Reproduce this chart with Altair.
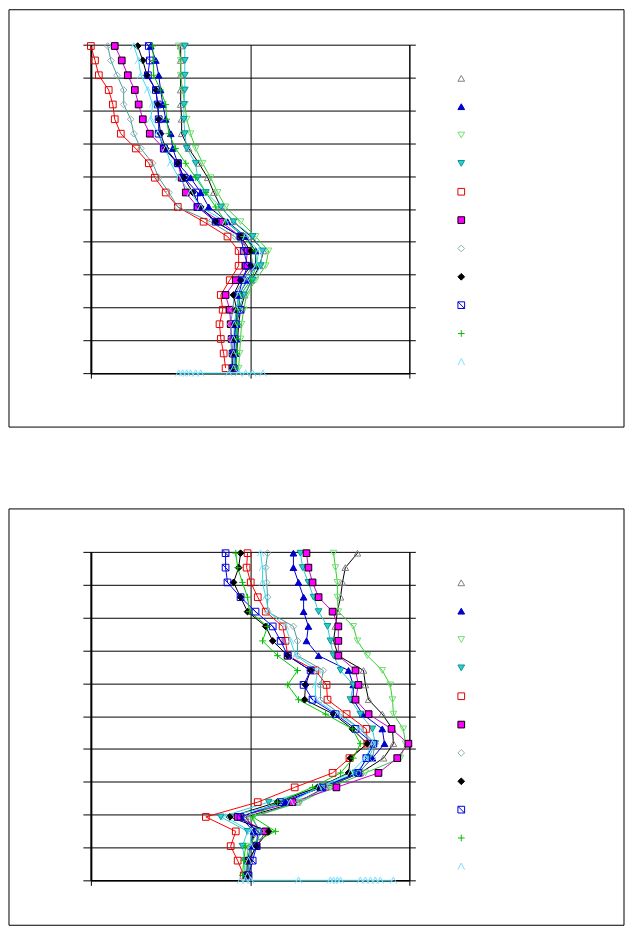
import altair as alt
import pandas as pd

names = [f"Series {i}" for i in range(1, 12)]

# profile levels, top to bottom
levels_desc = [99.6, 95.2, 90.7, 86.2, 81.8, 77.3, 72.9, 68.4, 63.9, 59.5, 55.0, 50.6,
               46.1, 41.6, 37.2, 32.7, 28.3, 23.8, 19.3, 14.9, 10.4, 6.0, 1.5]

# ---- upper chart (values listed from top level to bottom level)
top_s1 = [28.2, 28.2, 28.2, 28.2, 28.2, 28.5, 28.5, 30.7, 33.9, 36.7, 38.6, 40.8, 44.8, 50.2, 54.2, 53.0, 50.5, 48.3, 47.0, 46.4, 46.1, 45.8, 45.5]
top_s2 = [18.8, 20.4, 21.3, 21.9, 22.6, 23.5, 25.1, 25.7, 27.3, 31.3, 34.5, 37.0, 42.9, 48.6, 51.7, 51.7, 49.2, 46.4, 45.8, 45.8, 45.8, 45.5, 45.1]
top_s3 = [27.6, 28.2, 28.2, 28.8, 29.5, 30.1, 31.3, 32.9, 35.1, 37.6, 39.8, 42.3, 47.0, 51.7, 55.8, 54.9, 51.7, 48.9, 48.0, 47.3, 47.0, 46.7, 46.4]
top_s4 = [29.5, 29.5, 29.5, 29.5, 29.2, 29.2, 29.5, 30.1, 32.9, 33.5, 36.1, 40.8, 44.8, 50.8, 53.9, 53.3, 50.8, 48.0, 46.4, 45.8, 45.5, 45.1, 45.1]
top_s5 = [0.0, 1.3, 2.5, 5.6, 6.9, 7.5, 9.4, 14.1, 18.2, 20.1, 23.5, 27.3, 35.4, 42.9, 46.4, 46.4, 43.6, 40.8, 41.4, 40.4, 40.8, 41.7, 42.3]
top_s6 = [7.5, 9.7, 11.6, 13.8, 15.0, 16.3, 18.5, 22.9, 27.3, 28.5, 29.8, 33.5, 40.8, 47.0, 49.2, 48.6, 45.5, 42.3, 43.6, 43.9, 44.2, 44.5, 44.5]
top_s7 = [5.3, 6.3, 8.2, 10.3, 10.3, 12.5, 13.5, 15.7, 19.4, 21.3, 24.5, 27.3, 37.6, 45.1, 50.2, 50.8, 48.0, 45.1, 44.5, 43.9, 43.9, 44.2, 44.2]
top_s8 = [14.7, 16.3, 17.6, 20.4, 21.0, 21.3, 21.9, 23.5, 27.3, 29.2, 32.0, 34.5, 39.2, 47.0, 50.2, 50.2, 47.0, 44.8, 45.8, 45.1, 45.1, 44.8, 44.5]
top_s9 = [18.2, 18.5, 17.9, 20.4, 21.0, 21.3, 21.3, 22.9, 27.3, 29.2, 33.5, 33.5, 39.2, 47.0, 48.0, 49.2, 47.6, 46.4, 47.0, 45.5, 45.1, 44.8, 44.8]
top_s10 = [19.4, 19.7, 19.7, 21.9, 23.5, 23.8, 24.5, 26.6, 29.8, 32.9, 36.1, 39.2, 42.3, 48.0, 51.7, 52.0, 50.2, 47.0, 46.1, 46.1, 45.8, 45.8, 45.5]
top_s11 = [13.5, 15.0, 15.7, 17.9, 19.4, 18.8, 21.0, 23.5, 25.1, 27.6, 31.3, 34.5, 42.3, 48.6, 52.7, 52.0, 48.9, 46.4, 45.8, 45.1, 44.8, 44.8, 44.8]
top_base11 = [27.6, 28.8, 30.1, 31.3, 32.9, 34.5, 43.3, 46.4, 48.6, 50.8, 54.0]

# ---- lower chart
bot_s1 = [83.7, 79.9, 79.0, 78.4, 77.4, 76.8, 76.2, 77.7, 85.6, 86.2, 87.2, 91.5, 94.7, 95.0, 91.9, 84.6, 73.7, 64.9, 48.6, 51.7, 50.2, 49.2, 48.9]
bot_s2 = [63.6, 63.6, 65.2, 66.8, 66.8, 68.3, 67.7, 71.5, 80.9, 82.4, 82.4, 85.3, 91.5, 92.2, 88.4, 84.0, 72.1, 61.1, 47.0, 51.1, 50.2, 49.5, 48.9]
bot_s3 = [76.2, 76.8, 77.4, 77.4, 77.7, 82.4, 83.7, 86.8, 91.5, 94.0, 94.7, 95.0, 98.1, 98.8, 97.2, 86.2, 75.2, 65.8, 50.8, 52.7, 49.5, 48.9, 48.6]
bot_s4 = [65.8, 66.5, 68.3, 69.9, 71.5, 74.3, 75.2, 76.2, 78.4, 82.4, 81.5, 84.6, 88.4, 89.3, 87.2, 83.1, 72.1, 55.8, 40.8, 49.2, 47.6, 48.3, 48.3]
bot_s5 = [49.2, 48.9, 50.2, 52.4, 54.9, 60.2, 61.1, 61.8, 70.5, 74.0, 74.3, 80.3, 86.5, 86.8, 81.2, 75.9, 64.0, 52.4, 36.1, 45.5, 43.9, 46.1, 48.0]
bot_s6 = [67.7, 68.3, 69.6, 71.5, 75.9, 77.7, 77.7, 77.7, 83.1, 84.0, 83.1, 87.2, 94.4, 99.7, 96.2, 90.3, 77.1, 63.3, 46.1, 54.9, 52.0, 49.5, 49.2]
bot_s7 = [55.5, 54.9, 55.2, 55.5, 55.5, 63.6, 64.9, 64.9, 73.0, 72.1, 72.1, 78.4, 84.6, 89.3, 88.4, 84.0, 73.7, 65.2, 50.2, 53.3, 51.7, 50.2, 49.5]
bot_s8 = [47.0, 46.4, 44.8, 47.0, 49.2, 54.9, 57.1, 61.8, 69.0, 67.4, 67.1, 76.2, 82.1, 86.8, 81.5, 80.9, 71.2, 58.6, 43.6, 55.8, 52.0, 49.5, 49.2]
bot_s9 = [42.3, 42.3, 42.9, 47.0, 51.7, 57.1, 59.6, 61.8, 69.0, 66.8, 69.6, 76.8, 83.1, 88.7, 86.5, 84.0, 72.7, 59.6, 47.0, 52.4, 52.0, 50.8, 49.5]
bot_s10 = [45.5, 46.1, 47.6, 49.2, 49.8, 55.5, 53.9, 58.6, 64.9, 61.8, 65.2, 73.7, 82.1, 84.6, 82.4, 78.4, 69.6, 58.6, 50.8, 58.0, 48.6, 48.0, 47.6]
bot_s11 = [53.3, 53.9, 53.9, 54.9, 55.8, 61.1, 62.7, 64.3, 71.2, 70.5, 70.5, 77.4, 84.6, 88.4, 86.2, 81.5, 71.5, 62.7, 42.3, 50.2, 50.2, 49.5, 49.2]
bot_base11 = [47.0, 48.6, 50.2, 65.2, 75.2, 76.2, 77.4, 78.4, 84.6, 86.2, 87.8, 89.3, 90.9, 95.0]

# ---- styles
shapes = ["triangle-up", "triangle-up", "triangle-down", "triangle-down", "square", "square",
          "diamond", "diamond", "M-1,-1L1,-1L1,1L-1,1Z M-1,-1L1,1", "M-1,0L1,0M0,-1L0,1",
          "M-1,1L0,-1L1,1"]
marker_strokes = ["#808080", "#0000CC", "#70E070", "#009999", "#E00000", "#000000",
                  "#8FB0B0", "#000000", "#0000DD", "#00C000", "#7FDFFF"]
marker_fills = ["transparent", "#0000CC", "transparent", "#33CCCC", "transparent", "#FF00FF",
                "transparent", "#000000", "transparent", "transparent", "transparent"]
line_colors = ["#000000", "#0000CC", "#33CC33", "#33CCCC", "#FF0000", "#CC00CC",
               "#4A9A9A", "#000000", "#0000FF", "#00CC00", "#33DDEE"]


def build(series_lists, base_vals):
    rows = []
    for name, vals in zip(names, series_lists):
        for i, (xv, yv) in enumerate(zip(vals, levels_desc)):
            rows.append(dict(series=name, part=name, seq=i, x=xv, y=yv))
    for i, xv in enumerate(sorted(base_vals)):
        rows.append(dict(series=names[10], part="base", seq=i, x=xv, y=0.0))
    return pd.DataFrame(rows)


top_df = build([top_s1, top_s2, top_s3, top_s4, top_s5, top_s6, top_s7, top_s8, top_s9, top_s10, top_s11], top_base11)
bot_df = build([bot_s1, bot_s2, bot_s3, bot_s4, bot_s5, bot_s6, bot_s7, bot_s8, bot_s9, bot_s10, bot_s11], bot_base11)
legend_df = pd.DataFrame({"series": names, "rank": list(range(len(names)))})

xsc = alt.Scale(domain=[0, 100], nice=False, zero=False)
ysc = alt.Scale(domain=[0, 100], nice=False, zero=False)
ticks = list(range(0, 101, 10))

x_axis = alt.Axis(values=[0, 50, 100], grid=True, gridColor="black", gridOpacity=1, gridWidth=1,
                  domainColor="black", domainWidth=1.5, tickColor="black", tickSize=5,
                  labelColor="white", title="")
y_left = alt.Axis(orient="left", values=ticks, grid=True, gridColor="black", gridOpacity=1,
                  gridWidth=1, domainColor="black", domainWidth=2, tickColor="black",
                  tickSize=8, labelColor="white", title="")
y_right = alt.Axis(orient="right", values=ticks, grid=False, domainColor="black", domainWidth=1,
                   tickColor="black", tickSize=6, labelColor="white", title="", labelPadding=2)

W, H = 319, 329
MS = 45
shape_enc = alt.Shape("series:N", scale=alt.Scale(domain=names, range=shapes), legend=None)
stroke_enc = alt.Stroke("series:N", scale=alt.Scale(domain=names, range=marker_strokes), legend=None)
fill_enc = alt.Fill("series:N", scale=alt.Scale(domain=names, range=marker_fills), legend=None)


def panel(df, leg_top, frame_top, frame_bottom):
    X = alt.X("x:Q", scale=xsc, axis=x_axis)
    frame = alt.Chart(pd.DataFrame({"k": [0]})).mark_rect(
        fillOpacity=0, stroke="black", strokeWidth=1, clip=False
    ).encode(x=alt.value(-82), x2=alt.value(534), y=alt.value(frame_top), y2=alt.value(frame_bottom))
    base = alt.Chart(df)
    lines = base.mark_line(strokeWidth=1).encode(
        x=X,
        y=alt.Y("y:Q", scale=ysc, axis=y_left),
        color=alt.Color("series:N", scale=alt.Scale(domain=names, range=line_colors), legend=None),
        detail="part:N",
        order="seq:Q",
    )
    points = base.mark_point(filled=True, size=MS, strokeWidth=1, opacity=1).encode(
        x=X,
        y=alt.Y("y:Q", scale=ysc, axis=None),
        shape=shape_enc, stroke=stroke_enc, fill=fill_enc,
    )
    right = base.mark_point(opacity=0).encode(
        x=X,
        y=alt.Y("y:Q", scale=ysc, axis=y_right),
    )
    # legend: symbols and (white) labels, one row per series
    leg_y = alt.Y("rank:Q", scale=alt.Scale(domain=[0, 10], range=[leg_top, leg_top + 284]), axis=None)
    leg_base = alt.Chart(legend_df)
    leg_sym = leg_base.mark_point(filled=True, size=MS, strokeWidth=1, opacity=1, clip=False).encode(
        x=alt.value(371), y=leg_y, shape=shape_enc, stroke=stroke_enc, fill=fill_enc,
    )
    leg_txt = leg_base.mark_text(align="left", baseline="middle", color="white", fontSize=10,
                                 font="Liberation Sans", clip=False).encode(
        x=alt.value(384), y=leg_y, text="series:N",
    )
    return alt.layer(frame, lines, points, right, leg_sym, leg_txt).resolve_scale(
        y="independent"
    ).properties(width=W, height=H)


top = panel(top_df, 33.7, -35, 383)
bottom = panel(bot_df, 31.0, -43, 374)

chart = alt.vconcat(top, bottom, spacing=179, bounds="flush").resolve_scale(
    shape="independent", stroke="independent", fill="independent", color="independent"
).properties(padding=0).configure_view(strokeWidth=0).configure_axis(
    labelFont="Liberation Sans", labelFontSize=10
)

chart.save("out.html", embed_options={"renderer": "svg", "actions": False})
